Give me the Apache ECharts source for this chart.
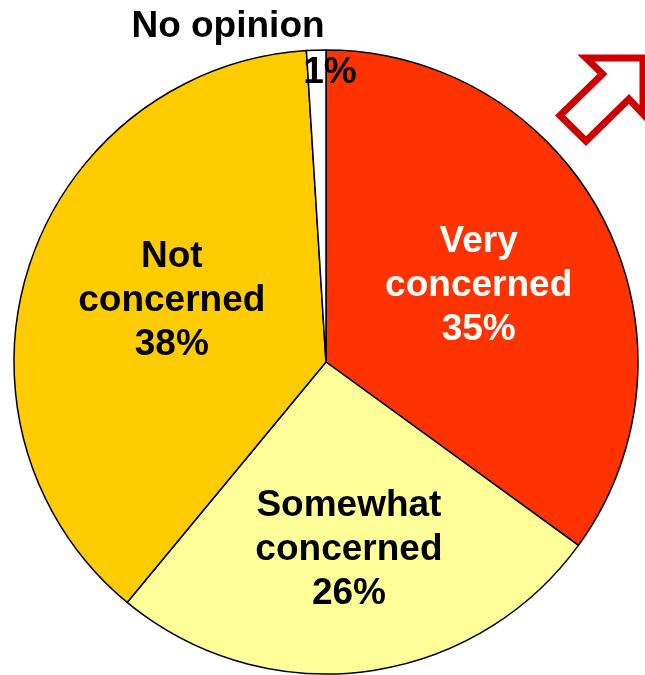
<!DOCTYPE html>
<html>
<head>
<meta charset="utf-8">
<script src="https://cdn.jsdelivr.net/npm/echarts@6/dist/echarts.min.js"></script>
<style>
  html, body { margin: 0; padding: 0; background: #ffffff; }
  #chart { width: 645px; height: 675px; }
</style>
</head>
<body>
<div id="chart"></div>
<script>
// Survey answers, clockwise from 12 o'clock
const categories = ['Very concerned', 'Somewhat concerned', 'Not concerned', 'No opinion'];
const shares = [35, 26, 38, 1];
const sliceColors = ['#ff3300', '#ffff99', '#ffcc00', '#ffffff'];
const labelColors = ['#ffffff', '#000000', '#000000', '#000000'];
// nudges of each label from its default inside spot
const labelShift = [[11, -4], [3, 30], [-3, -12], [0, 0]];

const FONT = '"Liberation Sans", Arial, sans-serif';

const chart = echarts.init(document.getElementById('chart'), null, { renderer: 'canvas' });

const pieData = categories.map((name, i) => ({
  name: name,
  value: shares[i],
  itemStyle: { color: sliceColors[i] },
  label: { color: labelColors[i] }
}));
// the small slice keeps only its percentage on the pie, pushed up near the rim
pieData[3].label = {
  color: '#000000',
  position: 'inside',
  formatter: (p) => p.value + '%'
};

chart.setOption({
  animation: false,
  backgroundColor: '#ffffff',
  series: [{
    type: 'pie',
    center: [326, 362],
    radius: [0, 312],
    startAngle: 90,
    clockwise: true,
    silent: true,
    data: pieData,
    itemStyle: { borderColor: '#000000', borderWidth: 1.5 },
    label: {
      show: true,
      position: 'inside',
      fontFamily: FONT,
      fontWeight: 'bold',
      fontSize: 37,
      lineHeight: 44,
      align: 'center',
      formatter: (p) => p.name.replace(' ', '\n') + '\n' + p.value + '%'
    },
    labelLine: { show: false },
    labelLayout: (params) => {
      if (params.dataIndex === 3) {
        return { x: 330, y: 73, align: 'center', verticalAlign: 'middle' };
      }
      const s = labelShift[params.dataIndex];
      return { dx: s[0], dy: s[1] };
    }
  }],
  graphic: [
    {
      type: 'text',
      x: 228,
      y: 27,
      style: {
        text: categories[3],
        fontFamily: FONT,
        fontWeight: 'bold',
        fontSize: 37,
        fill: '#000000',
        align: 'center',
        verticalAlign: 'middle'
      }
    },
    {
      // outlined arrow pointing up and to the right
      type: 'polygon',
      shape: {
        points: [[586, 58], [643, 58], [643, 114], [629, 99], [586, 141], [560, 115.5], [602.5, 74]]
      },
      style: {
        fill: '#ffffff',
        stroke: '#cc0000',
        lineWidth: 7,
        lineJoin: 'miter',
        miterLimit: 10
      }
    }
  ]
});
</script>
</body>
</html>
